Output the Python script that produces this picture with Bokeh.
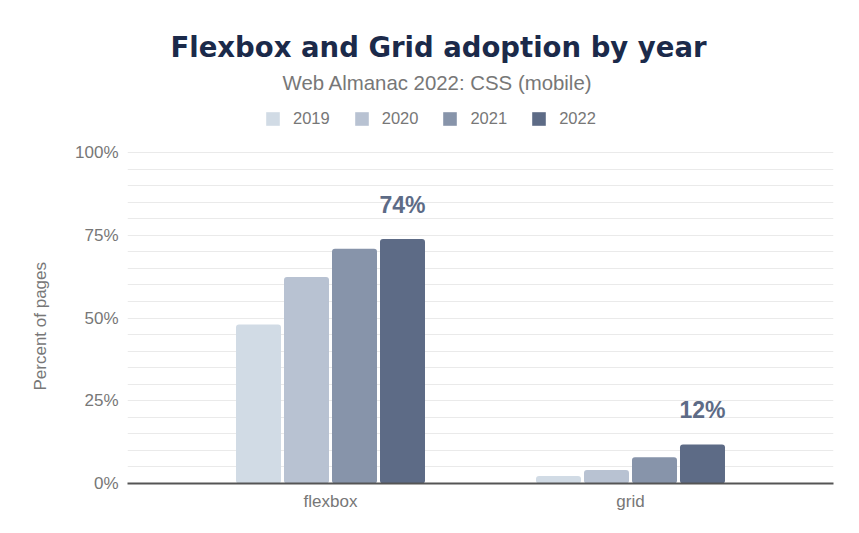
from bokeh.plotting import figure
from bokeh.models import (Range1d, FixedTicker, Title, Legend, LegendItem, ColumnDataSource)
from bokeh.core.properties import value
from bokeh.embed import file_html
from bokeh.resources import INLINE

# ---- data ----
categories = ["flexbox", "grid"]
years = ["2019", "2020", "2021", "2022"]
flexbox_values = [48.0, 62.4, 70.9, 73.9]
grid_values = [2.3, 4.1, 7.9, 11.8]
highlight_labels = ["74%", "12%"]
y_ticks = [0, 25, 50, 75, 100]
y_tick_labels = ["0%", "25%", "50%", "75%", "100%"]
grid_ticks = list(range(0, 101, 5))
colors = ["#d1dbe5", "#b8c2d2", "#8794aa", "#5d6b86"]

FONT = "Liberation Sans"
GRAY = "#777777"

# frame spans 0..100% plus headroom for the legend strip
p = figure(width=859, height=533, output_backend="svg", toolbar_location=None,
           x_range=Range1d(-0.6767, 1.6767), y_range=Range1d(0, 115.71),
           min_border_left=127, min_border_right=26, min_border_bottom=50,
           min_border_top=100, title=None)
p.outline_line_color = None
p.background_fill_color = "white"
p.border_fill_color = "white"

pitch = 0.16
bar_w = 0.15
items = []
for i, yr in enumerate(years):
    off = (i - 1.5) * pitch
    src = ColumnDataSource(dict(x=[k + off for k in range(len(categories))],
                                top=[flexbox_values[i], grid_values[i]]))
    r = p.vbar(x="x", top="top", width=bar_w, source=src, fill_color=colors[i],
               line_color=None, border_radius=3)
    items.append(LegendItem(label=yr, renderers=[r]))

# highlight labels above 2022 bars
lab_src = ColumnDataSource(dict(x=[k + 1.5 * pitch for k in range(len(categories))],
                                y=[flexbox_values[3], grid_values[3]],
                                t=highlight_labels))
p.text(x="x", y="y", text="t", source=lab_src, text_align="center",
       text_baseline="alphabetic", y_offset=-34, text_font=value(FONT),
       text_font_style="bold", text_font_size="23px", text_color="#5d6b86")

# axes
p.xaxis.ticker = FixedTicker(ticks=list(range(len(categories))))
p.xaxis.major_label_overrides = {i: c for i, c in enumerate(categories)}
p.xaxis.major_tick_line_color = None
p.xaxis.minor_tick_line_color = None
p.xaxis.axis_line_color = "#555555"
p.xaxis.axis_line_width = 2
p.xaxis.major_label_text_font = FONT
p.xaxis.major_label_text_font_size = "17px"
p.xaxis.major_label_text_color = GRAY
p.xaxis.major_label_standoff = 2

p.yaxis.ticker = FixedTicker(ticks=y_ticks)
p.yaxis.major_label_overrides = {t: l for t, l in zip(y_ticks, y_tick_labels)}
p.yaxis.axis_line_color = None
p.yaxis.major_tick_line_color = None
p.yaxis.minor_tick_line_color = None
p.yaxis.major_label_text_font = FONT
p.yaxis.major_label_text_font_size = "17px"
p.yaxis.major_label_text_color = GRAY
p.yaxis.major_label_standoff = 3

p.xgrid.grid_line_color = None
p.ygrid.ticker = FixedTicker(ticks=grid_ticks)
p.ygrid.grid_line_color = "#eaeaea"
p.ygrid.grid_line_width = 1

# y axis title (as a left-side title so it can be offset along the side)
ytitle = Title(text="Percent of pages", align="left", offset=93,
               text_font=FONT, text_font_size="17px", text_font_style="normal",
               text_color=GRAY, standoff=46)
p.add_layout(ytitle, "left")

# legend in the headroom strip above 100%
legend = Legend(items=items, orientation="horizontal", location=(137, 355),
                glyph_width=17, glyph_height=17, label_standoff=12, spacing=23,
                label_text_font=FONT, label_text_font_size="16.5px",
                label_text_color=GRAY, border_line_color=None,
                background_fill_alpha=0, padding=0, margin=0)
p.add_layout(legend, "center")

subtitle = Title(text="Web Almanac 2022: CSS (mobile)", align="left", offset=155,
                 text_font=FONT, text_font_size="20.4px", text_font_style="normal",
                 text_color=GRAY, standoff=13)
p.add_layout(subtitle, "above")
title = Title(text="Flexbox and Grid adoption by year", align="left", offset=43,
              text_font="DejaVu Sans", text_font_size="27.5px", text_font_style="bold",
              text_color="#1b2a4a", standoff=1)
p.add_layout(title, "above")

open("out.html", "w").write(file_html(p, INLINE))
